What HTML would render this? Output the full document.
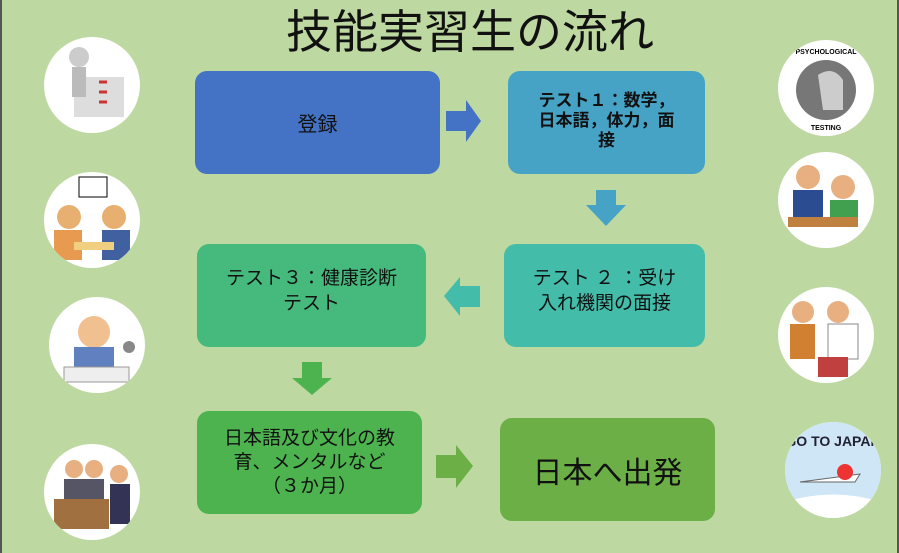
<!DOCTYPE html>
<html><head><meta charset="utf-8"><style>
body{margin:0;width:899px;height:553px;overflow:hidden;background:#bdd9a1;position:relative;font-family:"Liberation Sans","Noto Sans CJK JP",sans-serif;}
.b{position:absolute;border-radius:12px;display:flex;align-items:center;justify-content:center;text-align:center;color:#111;white-space:nowrap}
.c{position:absolute;border-radius:50%;background:#fff;width:96px;height:96px;overflow:hidden}
.t{position:absolute;left:0;width:940px;top:-4px;text-align:center;font-size:46px;color:#111;}
svg{position:absolute;left:0;top:0}
</style></head><body>
<div style="position:absolute;left:0;top:0;width:2px;height:553px;background:#555"></div>
<div style="position:absolute;right:0;top:0;width:2px;height:553px;background:#555"></div>
<div class="t">技能実習生の流れ</div>
<div class="b" style="left:195px;top:71px;width:245px;height:103px;background:#4472c4;font-size:20px">登録</div>
<div class="b" style="left:508px;top:71px;width:197px;height:103px;background:#46a3c6;font-size:17px;font-weight:bold;line-height:20px;align-items:flex-start;padding-top:20px;box-sizing:border-box">テスト１：数学，<br>日本語，体力，面<br>接</div>
<div class="b" style="left:504px;top:244px;width:201px;height:103px;background:#43bca9;font-size:19px;line-height:25px;box-sizing:border-box;align-items:flex-start;padding-top:22px">テスト ２ ：受け<br>入れ機関の面接</div>
<div class="b" style="left:197px;top:244px;width:229px;height:103px;background:#46b97d;font-size:19px;line-height:25px;box-sizing:border-box;align-items:flex-start;padding-top:22px">テスト３：健康診断<br>テスト</div>
<div class="b" style="left:197px;top:411px;width:225px;height:103px;background:#4db34f;font-size:19px;line-height:24px">日本語及び文化の教<br>育、メンタルなど<br>（３か月）</div>
<div class="b" style="left:500px;top:418px;width:215px;height:103px;background:#6caf46;font-size:30px">日本へ出発</div>
<svg width="899" height="553">
<polygon points="446,111 466,111 466,100 481,121 466,142 466,131 446,131" fill="#4472c4"/>
<polygon points="596,190 616,190 616,205 626,205 606,226 586,205 596,205" fill="#46a3c6"/>
<polygon points="480,286 460,286 460,277 444,296 460,316 460,307 480,307" fill="#43bca9"/>
<polygon points="302,362 322,362 322,378 332,378 312,395 292,378 302,378" fill="#4db34f"/>
<polygon points="436,455 456,455 456,445 473,466 456,488 456,478 436,478" fill="#6caf46"/>
</svg>
<div class="c" style="left:44px;top:37px"><svg width="96" height="96"><rect x="30" y="40" width="50" height="40" fill="#ddd"/><circle cx="35" cy="20" r="10" fill="#ccc"/><rect x="28" y="30" width="14" height="30" fill="#bbb"/><path d="M55 45h8M55 55h8M55 65h8" stroke="#c33" stroke-width="3"/></svg></div>
<div class="c" style="left:44px;top:172px"><svg width="96" height="96"><rect x="35" y="5" width="28" height="20" fill="#fff" stroke="#000"/><circle cx="25" cy="45" r="12" fill="#e8b070"/><circle cx="70" cy="45" r="12" fill="#e8b070"/><rect x="10" y="58" width="28" height="30" fill="#e89a50"/><rect x="58" y="58" width="28" height="30" fill="#4060a0"/><rect x="30" y="70" width="40" height="8" fill="#f0d080"/></svg></div>
<div class="c" style="left:49px;top:297px"><svg width="96" height="96"><circle cx="45" cy="35" r="16" fill="#f0c090"/><rect x="25" y="50" width="40" height="30" fill="#6080c0"/><rect x="15" y="70" width="65" height="15" fill="#eee" stroke="#999"/><circle cx="80" cy="50" r="6" fill="#888"/></svg></div>
<div class="c" style="left:44px;top:444px"><svg width="96" height="96"><rect x="10" y="55" width="55" height="30" fill="#a07040"/><circle cx="30" cy="25" r="9" fill="#e8b080"/><circle cx="50" cy="25" r="9" fill="#e8b080"/><circle cx="75" cy="30" r="9" fill="#e8b080"/><rect x="20" y="35" width="40" height="20" fill="#556"/><rect x="66" y="40" width="20" height="40" fill="#335"/></svg></div>
<div class="c" style="left:778px;top:40px"><svg width="96" height="96"><circle cx="48" cy="50" r="30" fill="#777"/><path d="M40 35q15-10 25 5v30h-20z" fill="#ccc"/><text x="48" y="14" font-size="7" text-anchor="middle" font-weight="bold" font-family="Liberation Sans">PSYCHOLOGICAL</text><text x="48" y="90" font-size="7" text-anchor="middle" font-weight="bold" font-family="Liberation Sans">TESTING</text></svg></div>
<div class="c" style="left:778px;top:152px"><svg width="96" height="96"><circle cx="30" cy="25" r="12" fill="#e8b080"/><circle cx="65" cy="35" r="12" fill="#e8b080"/><rect x="15" y="38" width="30" height="30" fill="#2b4c90"/><rect x="52" y="48" width="28" height="25" fill="#40a050"/><rect x="10" y="65" width="70" height="10" fill="#c08040"/></svg></div>
<div class="c" style="left:778px;top:287px"><svg width="96" height="96"><circle cx="25" cy="25" r="11" fill="#e8b080"/><circle cx="60" cy="25" r="11" fill="#e8b080"/><rect x="12" y="37" width="25" height="35" fill="#d08030"/><rect x="50" y="37" width="30" height="35" fill="#fff" stroke="#888"/><rect x="40" y="70" width="30" height="20" fill="#c04040"/></svg></div>
<div class="c" style="left:785px;top:422px"><svg width="96" height="96"><rect width="96" height="96" fill="#cfe6f6"/><text x="48" y="24" font-size="14" text-anchor="middle" font-weight="bold" fill="#223" font-family="Liberation Sans">GO TO JAPAN</text><path d="M15 60l60-8-5 8z" fill="#fff" stroke="#666"/><circle cx="60" cy="50" r="8" fill="#e33"/><path d="M0 80q48-15 96 0v16H0z" fill="#fff"/></svg></div>
</body></html>
